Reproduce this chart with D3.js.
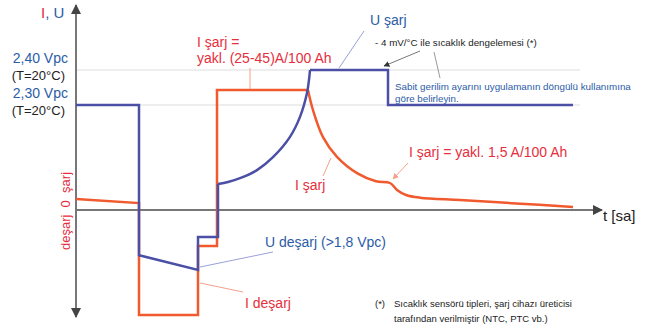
<!DOCTYPE html>
<html><head><meta charset="utf-8">
<script src="https://cdn.jsdelivr.net/npm/d3@7/dist/d3.min.js"></script>
<style>body{margin:0;background:#fff}svg{display:block}text{font-family:"Liberation Sans",Arial,sans-serif}</style>
</head><body><svg id="c" width="649" height="330"></svg>
<script>
// time in hours (schematic), voltage in Vpc, current in A/100Ah
const uSteps = [[0,2.30],[3.15,2.30],[3.15,1.871],[6.1,1.829],[6.1,1.923],[7.1,1.923],[7.1,2.074]];
const uCurve = [[7.1,2.074],[7.6,2.080],[8.2,2.091],[9.05,2.114],[9.85,2.151],[10.7,2.209],[11.2,2.266],[11.55,2.334],[11.66,2.377],[11.7,2.40]];
const uTail = [[11.7,2.40],[15.6,2.40],[15.6,2.30],[24.85,2.30]];
const iSteps = [[0,3.7],[3.15,2.3],[3.15,-35],[6.1,-35],[6.1,-12],[7.05,-12],[7.05,40],[11.6,40]];
const iCurve = [[11.6,40],[11.85,33.3],[12.35,24.3],[13.05,17.7],[14.05,12.3],[15.0,9.6],[15.7,9.0],[16.05,6.7],[16.5,5.0],[17.2,4.1],[19.2,3.3],[22,2.2],[24.85,1.0]];
const refVoltages = [2.40, 2.30];
const refLabels = ["2,40 Vpc","2,30 Vpc"];
const tempLabel = "(T=20°C)";

const svg = d3.select("#c");
const x = d3.scaleLinear().domain([0,26.2]).range([76,600]);
const yU = d3.scaleLinear().domain([1.7,2.4]).range([315,70]);
const yI = d3.scaleLinear().domain([-35,40]).range([315,90]);

const BLUE="#4b4fa6", RED="#f05a2e", TBLUE="#2c5ca6", TRED="#e62e3c", AX="#777";

// reference gridlines
refVoltages.forEach((v,i)=>{
  svg.append("line").attr("x1",x(0)).attr("x2",x(25.2)).attr("y1",yU(v)).attr("y2",yU(v))
    .attr("stroke","#ddd").attr("stroke-width",1.2);
  svg.append("text").attr("x",68).attr("y",yU(v)-7).attr("text-anchor","end")
    .attr("font-size",14).attr("fill",TBLUE).text(refLabels[i]);
  svg.append("text").attr("x",65).attr("y",yU(v)+10).attr("text-anchor","end")
    .attr("font-size",13).attr("fill","#222").text(tempLabel);
});

// axes
const defs = svg.append("defs");
defs.append("marker").attr("id","ah").attr("viewBox","0 0 10 10").attr("refX",9).attr("refY",5)
  .attr("markerWidth",5).attr("markerHeight",5).attr("orient","auto-start-reverse")
  .append("path").attr("d","M0,0L10,5L0,10z").attr("fill","#444");
svg.append("line").attr("x1",x(0)).attr("x2",x(0)).attr("y1",317).attr("y2",5)
  .attr("stroke",AX).attr("stroke-width",2).attr("marker-start","url(#ah)").attr("marker-end","url(#ah)");
svg.append("line").attr("x1",x(0)).attr("x2",602).attr("y1",yU(2.0)).attr("y2",yU(2.0))
  .attr("stroke",AX).attr("stroke-width",2).attr("marker-end","url(#ah)");

const line = d3.line();
const lineC = d3.line().curve(d3.curveCatmullRom);
function path(pts, ys, gen){ return gen(pts.map(d=>[x(d[0]), ys(d[1])])); }

// current
svg.append("path").attr("d",path(iSteps,yI,line)).attr("fill","none").attr("stroke",RED).attr("stroke-width",2.5).attr("stroke-linejoin","miter");
svg.append("path").attr("d",path(iCurve,yI,lineC)).attr("fill","none").attr("stroke",RED).attr("stroke-width",2.5);
// voltage
svg.append("path").attr("d",path(uSteps,yU,line)).attr("fill","none").attr("stroke",BLUE).attr("stroke-width",2.5);
svg.append("path").attr("d",path(uCurve,yU,lineC)).attr("fill","none").attr("stroke",BLUE).attr("stroke-width",2.5);
svg.append("path").attr("d",path(uTail,yU,line)).attr("fill","none").attr("stroke",BLUE).attr("stroke-width",2.5);

// leader lines
function leader(x1,y1,x2,y2,c,w){ svg.append("line").attr("x1",x1).attr("y1",y1).attr("x2",x2).attr("y2",y2).attr("stroke",c).attr("stroke-width",w||1); }
leader(250,68,250,89,"#f5a08a");
leader(364,31,339,68,"#9aa0d8");
leader(323,176,331,158,"#f5a08a");
leader(273,252,200,267,"#9aa0d8");
leader(243,292,200,283,"#f5a08a");
leader(434,52,440,78,"#999");
defs.append("marker").attr("id","ah2").attr("viewBox","0 0 10 10").attr("refX",9).attr("refY",5)
  .attr("markerWidth",6).attr("markerHeight",6).attr("orient","auto")
  .append("path").attr("d","M0,0L10,5L0,10z").attr("fill","#333");
svg.append("line").attr("x1",420).attr("y1",51).attr("x2",384).attr("y2",66).attr("stroke","#777").attr("marker-end","url(#ah2)");
defs.append("marker").attr("id","ah3").attr("viewBox","0 0 10 10").attr("refX",9).attr("refY",5)
  .attr("markerWidth",6).attr("markerHeight",6).attr("orient","auto")
  .append("path").attr("d","M0,0L10,5L0,10z").attr("fill","#f5a08a");
svg.append("line").attr("x1",408).attr("y1",163).attr("x2",393).attr("y2",179).attr("stroke","#f5a08a").attr("marker-end","url(#ah3)");

// texts
function txt(s,xx,yy,size,fill,anchor){ return svg.append("text").attr("x",xx).attr("y",yy).attr("font-size",size).attr("fill",fill).attr("text-anchor",anchor||"start").text(s); }
const iu = svg.append("text").attr("x",41).attr("y",18).attr("font-size",15);
iu.append("tspan").attr("fill",TRED).text("I");
iu.append("tspan").attr("fill",TBLUE).text(", U");
svg.append("text").attr("transform","translate(70,211) rotate(-90)").attr("text-anchor","middle")
  .attr("font-size",13).attr("fill",TRED).attr("xml:space","preserve").text("deşarj  0  şarj");
txt("I şarj =",197,47,14,TRED);
txt("yakl. (25-45)A/100 Ah",197,63,14,TRED);
txt("U şarj",370,25,14,TBLUE);
txt("- 4 mV/°C ile sıcaklık dengelemesi (*)",375,46,9.8,"#222");
txt("Sabit gerilim ayarını uygulamanın döngülü kullanımına",395,90,9.8,TBLUE);
txt("göre belirleyin.",395,102,9.8,TBLUE);
txt("I şarj = yakl. 1,5 A/100 Ah",409,157,14,TRED);
txt("I şarj",295,190,14,TRED);
txt("U deşarj (>1,8 Vpc)",265,247,14,TBLUE);
txt("I deşarj",245,308,14,TRED);
txt("t [sa]",603,221,15,"#222");
txt("(*)",375,307,9.5,"#222");
txt("Sıcaklık sensörü tipleri, şarj cihazı üreticisi",394,307,9.5,"#222");
txt("tarafından verilmiştir (NTC, PTC vb.)",394,322,9.5,"#222");
</script></body></html>
